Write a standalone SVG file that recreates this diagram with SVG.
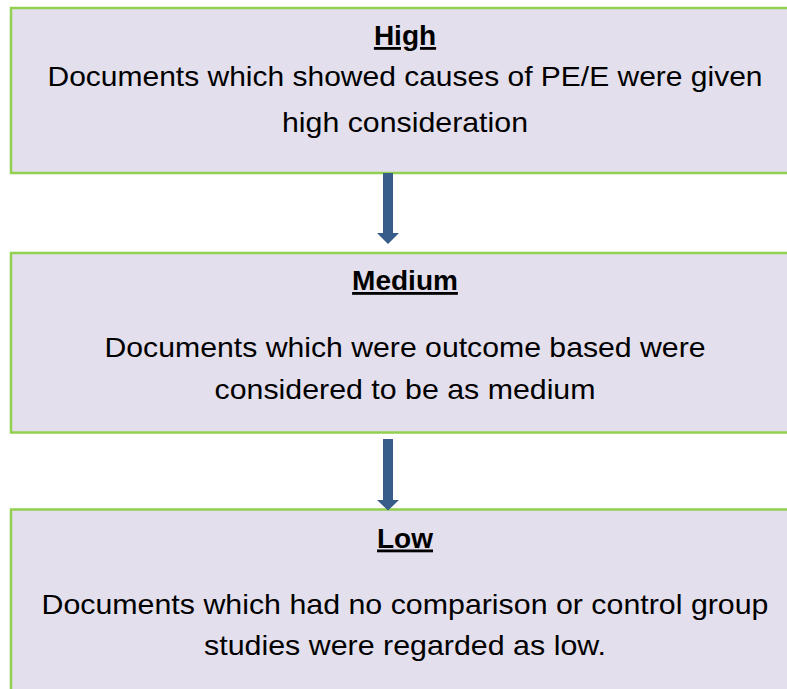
<svg xmlns="http://www.w3.org/2000/svg" width="787" height="689" viewBox="0 0 787 689">
<style>
.box{fill:#E4DFEC;stroke:#92D050;stroke-width:2.5}
.t{font-family:"Liberation Sans",Arial,sans-serif;font-size:28px;fill:#000;text-anchor:middle}
.h{font-weight:bold;text-decoration:underline}
.arr{fill:#385D8A}
</style>
<rect x="0" y="0" width="787" height="689" fill="#fff"/>
<g id="node-high">
<rect class="box" x="11" y="8" width="800" height="165"/>
<text class="t h" x="405" y="45">High</text>
<text class="t" x="405" y="86" textLength="715" lengthAdjust="spacingAndGlyphs">Documents which showed causes of PE/E were given</text>
<text class="t" x="405" y="132" textLength="246" lengthAdjust="spacingAndGlyphs">high consideration</text>
</g>
<g id="node-medium">
<rect class="box" x="11" y="253" width="800" height="179.5"/>
<text class="t h" x="405" y="290">Medium</text>
<text class="t" x="405" y="357" textLength="601" lengthAdjust="spacingAndGlyphs">Documents which were outcome based were</text>
<text class="t" x="405" y="399" textLength="381" lengthAdjust="spacingAndGlyphs">considered to be as medium</text>
</g>
<g id="node-low">
<rect class="box" x="11" y="509.5" width="800" height="200"/>
<text class="t h" x="405" y="547.5">Low</text>
<text class="t" x="405" y="613.5" textLength="727" lengthAdjust="spacingAndGlyphs">Documents which had no comparison or control group</text>
<text class="t" x="405" y="654.5" textLength="402" lengthAdjust="spacingAndGlyphs">studies were regarded as low.</text>
</g>
<g id="connectors">
<polygon class="arr" points="383,173 393,173 393,233 399,233 388,244 377,233 383,233"/>
<polygon class="arr" points="383,439 393,439 393,500 399,500 388,510.5 377,500 383,500"/>
</g>
</svg>
